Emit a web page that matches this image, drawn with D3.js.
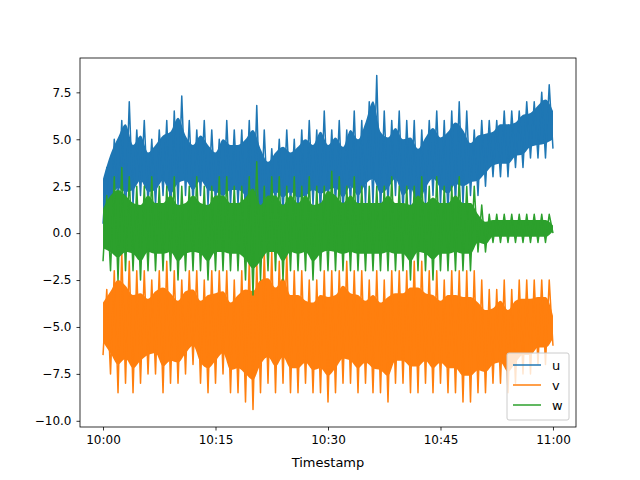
<!DOCTYPE html>
<html>
<head>
<meta charset="utf-8">
<script src="https://cdn.jsdelivr.net/npm/d3@7"></script>
<style>
  body { margin: 0; background: #fff; }
  text { font-family: "DejaVu Sans", sans-serif; }
</style>
</head>
<body>
<svg id="chart" width="640" height="480"></svg>
<script>
// per-minute envelopes (low / high), 10:00 .. 11:00
const minutes = d3.range(0, 61);
const uLo = [0.5,1,1.5,1,1.5,2,1.5,1.5,2,1,1.5,2,1.5,2,1.5,1.5,1,1.5,1.5,1,0.3,0.5,1,1.5,1,1.5,1,1,1.5,1,1.5,1.5,1,1.5,1,1.5,1.5,1,1.5,2,1,1.5,0.5,1.5,2,1.5,1,1.5,1.5,2,2,2.5,3,3,3,3.5,3.5,4,4,4,4.5];
const uHi = [3.5,5,6,7,5.5,6,5,5.5,6,6.5,7.3,6,5.5,6,5.5,5,6,5.5,5.5,6,6.8,5.5,4.5,5,5.5,5,5.5,6,5.5,6.5,5.5,6,5.5,6.5,6,7,8.4,6.5,6,6.5,6,6,5.5,6,6.5,6,6.5,7,6.5,5.5,6,6,6,6.5,6.5,6.5,7,7,7.5,7.9,7];
const vLo = [-6.5,-7.5,-8.5,-8,-8.5,-8,-7.5,-7.5,-8.5,-8,-8,-7.5,-7,-8,-8.5,-8,-7.5,-8.5,-8.5,-9,-9.4,-8.5,-8,-8.5,-8,-8.5,-8.5,-8,-8.5,-8.5,-9,-8.5,-8,-8,-8.5,-8,-8.5,-8.5,-9,-8,-8,-8.5,-8.5,-8,-8.5,-8,-8.5,-8.5,-9,-9,-8.5,-8.5,-8,-8,-8.5,-8,-7.5,-7.5,-7,-7,-6];
const vHi = [-3,-2,-1,-1.5,-2,-2,-2.5,-2,-1.5,-2,-2.5,-2,-2,-2.5,-2,-2,-2,-2.5,-2,-1.5,-1.5,-1,-1,-1.5,-1,-2,-2,-2.5,-2.5,-2,-2,-2,-1.5,-2,-2,-2.5,-2,-2.5,-2,-2,-2,-1.5,-1.5,-2,-2,-2.5,-2,-2,-2,-2,-2.5,-3,-3,-2.5,-3,-2.5,-2.5,-2.5,-2.5,-2.5,-4];
const wLo = [-1.5,-2,-2.5,-2,-2,-2.5,-2,-2,-2,-2,-2.5,-2,-2,-2,-2.5,-2,-2,-2,-2,-2.5,-3.3,-2.5,-2,-2,-2.5,-2,-2,-2,-2.5,-2,-2,-2,-2,-2,-2,-2,-2,-2,-2,-2,-2,-2.5,-2,-2,-2.5,-2,-2,-2,-2,-2,-1,-1,-0.5,-0.5,-0.5,-0.5,-0.5,-0.5,-0.5,-0.5,0];
const wHi = [2,3,3.5,3,2.5,2.5,3,2.5,2.5,3,2.5,2.5,3,2.5,2.5,3,3,2.5,2.5,3,3.8,2.5,3,3,2.5,3,2.5,3,2.5,2.5,3.3,3,2.5,3,2.5,2.5,2.5,2.5,3,2.5,2.5,2.5,3,2.5,3,2.5,2.5,3,2.5,2.5,1.5,1,1,1,1,1,1,1,1,1,0.5];
const seriesNames = ["u", "v", "w"];
const colors = ["#1f77b4", "#ff7f0e", "#2ca02c"];
const yTicks = [-10, -7.5, -5, -2.5, 0, 2.5, 5, 7.5];

const svg = d3.select("#chart");
const mLeft = 80, mRight = 576, mTop = 58, mBottom = 427;

const t0 = new Date(2020, 0, 1, 10, 0);
const t = m => new Date(t0.getTime() + m * 60000);
const x = d3.scaleTime().domain([t(-3.07), t(63.07)]).range([mLeft, mRight]);
const y = d3.scaleLinear().domain([-10.33, 9.33]).range([mBottom, mTop]);

// zigzag between low and high each half minute
function zig(lo, hi) {
  const pts = [];
  minutes.forEach(i => {
    pts.push([i, lo[i]]);
    if (i < 60) pts.push([i + 0.5, hi[i]]);
  });
  return pts;
}
const lows = [uLo, vLo, wLo], highs = [uHi, vHi, wHi];
const line = d3.line().x(d => x(t(d[0]))).y(d => y(d[1]));
// inner band: the densely filled part of each envelope
const area = d3.area().x(d => x(t(d.m)))
  .y0(d => y(d.lo + (d.hi - d.lo) * 0.2)).y1(d => y(d.hi - (d.hi - d.lo) * 0.2))
  .curve(d3.curveMonotoneX);

svg.append("clipPath").attr("id", "clip").append("rect")
  .attr("x", mLeft).attr("y", mTop).attr("width", mRight - mLeft).attr("height", mBottom - mTop);

const plot = svg.append("g").attr("clip-path", "url(#clip)");
seriesNames.forEach((n, i) => {
  const env = minutes.map(m => ({ m: m, lo: lows[i][m], hi: highs[i][m] }));
  plot.append("path").datum(env).attr("d", area).attr("fill", colors[i]);
  plot.append("path").datum(zig(lows[i], highs[i])).attr("d", line).attr("fill", "none")
    .attr("stroke", colors[i]).attr("stroke-width", 1.5).attr("stroke-linejoin", "round");
});

const xAxis = svg.append("g").attr("transform", `translate(0,${mBottom})`)
  .call(d3.axisBottom(x).tickValues([0, 15, 30, 45, 60].map(t))
    .tickFormat(d3.timeFormat("%H:%M")).tickSizeOuter(0).tickSize(3.5).tickPadding(5));
const yAxis = svg.append("g").attr("transform", `translate(${mLeft},0)`)
  .call(d3.axisLeft(y).tickValues(yTicks).tickFormat(d => d.toFixed(1).replace("-", "\u2212"))
    .tickSizeOuter(0).tickSize(3.5).tickPadding(5));
[xAxis, yAxis].forEach(a => {
  a.select(".domain").remove();
  a.selectAll("text").attr("font-size", 12).attr("fill", "#000")
    .style("font-family", "DejaVu Sans, sans-serif");
  a.selectAll("line").attr("stroke", "#000").attr("stroke-width", 0.8);
});

svg.append("rect").attr("x", mLeft).attr("y", mTop).attr("width", mRight - mLeft)
  .attr("height", mBottom - mTop).attr("fill", "none").attr("stroke", "#000").attr("stroke-width", 0.8);

svg.append("text").attr("x", (mLeft + mRight) / 2).attr("y", 467).attr("text-anchor", "middle")
  .attr("font-size", 13).text("Timestamp");

// legend
const lg = svg.append("g").attr("transform", "translate(507,353)");
lg.append("rect").attr("width", 62).attr("height", 67).attr("rx", 2)
  .attr("fill", "#fff").attr("fill-opacity", 0.8).attr("stroke", "#ccc");
seriesNames.forEach((n, i) => {
  const yy = 12 + i * 20;
  lg.append("line").attr("x1", 6).attr("x2", 34).attr("y1", yy).attr("y2", yy)
    .attr("stroke", colors[i]).attr("stroke-width", 1.5);
  lg.append("text").attr("x", 45).attr("y", yy + 4.5).attr("font-size", 13).text(n);
});
</script>
</body>
</html>
